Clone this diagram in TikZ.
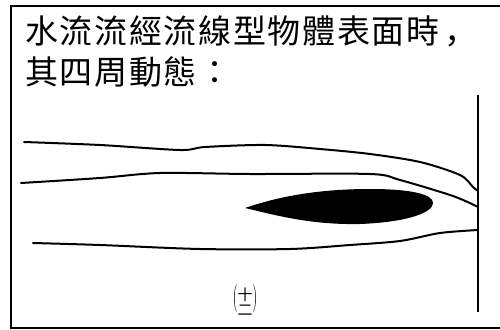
\documentclass[tikz,border=0pt]{standalone}
\usepackage{fontspec}
\newfontfamily\cjk{Noto Sans CJK TC}
\newfontfamily\cjksc{Noto Sans CJK SC}

\begin{document}
\begin{tikzpicture}[x=1pt,y=-1pt,
  title line/.style={anchor=west,inner sep=0pt,
    font=\cjk\fontsize{33}{33}\selectfont\addfontfeature{LetterSpace=5}},
  stream/.style={line width=2pt,line cap=round,line join=round}]
  \useasboundingbox (0,0) rectangle (500,329);

  % frame, open on the right
  \draw[line width=1.6pt] (500,6) -- (11,6) -- (11,328) -- (500,328);

  \node[title line] (t1) at (25,31) {水流流經流線型物體表面時\hspace{5pt}{\cjksc ，}};
  \node[title line] (t2) at (25,72) {其四周動態：};

  % wall on the right
  \coordinate (wtop) at (478,95);
  \coordinate (wbot) at (478,312);
  \coordinate (w1) at (478,191);
  \coordinate (w2) at (478,207);
  \coordinate (w3) at (478,230);
  \draw[line width=2pt] (wtop) -- (wbot);

  % stream lines
  \draw[stream] plot[smooth,tension=0.5] coordinates
    {(24,142) (100,145) (180,150) (205,147) (265,145) (320,149)
     (370,154) (420,162) (460,175) (473,187) (w1)};
  \draw[stream] plot[smooth,tension=0.5] coordinates
    {(21,183) (100,178) (160,173) (250,174) (370,174) (400,180)
     (453,196) (w2)};
  \draw[stream] plot[smooth,tension=0.5] coordinates
    {(33,243) (100,245) (200,249) (290,249) (350,245) (400,241)
     (440,233) (w3)};

  % the body
  \fill (245,208) .. controls (280,196) and (320,189) .. (370,189)
    .. controls (410,189) and (433,194) .. (433,203)
    .. controls (433,212) and (410,222) .. (360,224)
    .. controls (310,225) and (275,215) .. cycle;

  \node[inner sep=0pt] (num) at (245,300)
    {\scalebox{1.2}[2.8]{(}\raisebox{-10pt}{\cjk\fontsize{15}{15}\selectfont
      \shortstack{十\\[0pt]二}}\scalebox{1.2}[2.8]{)}};
\end{tikzpicture}
\end{document}
